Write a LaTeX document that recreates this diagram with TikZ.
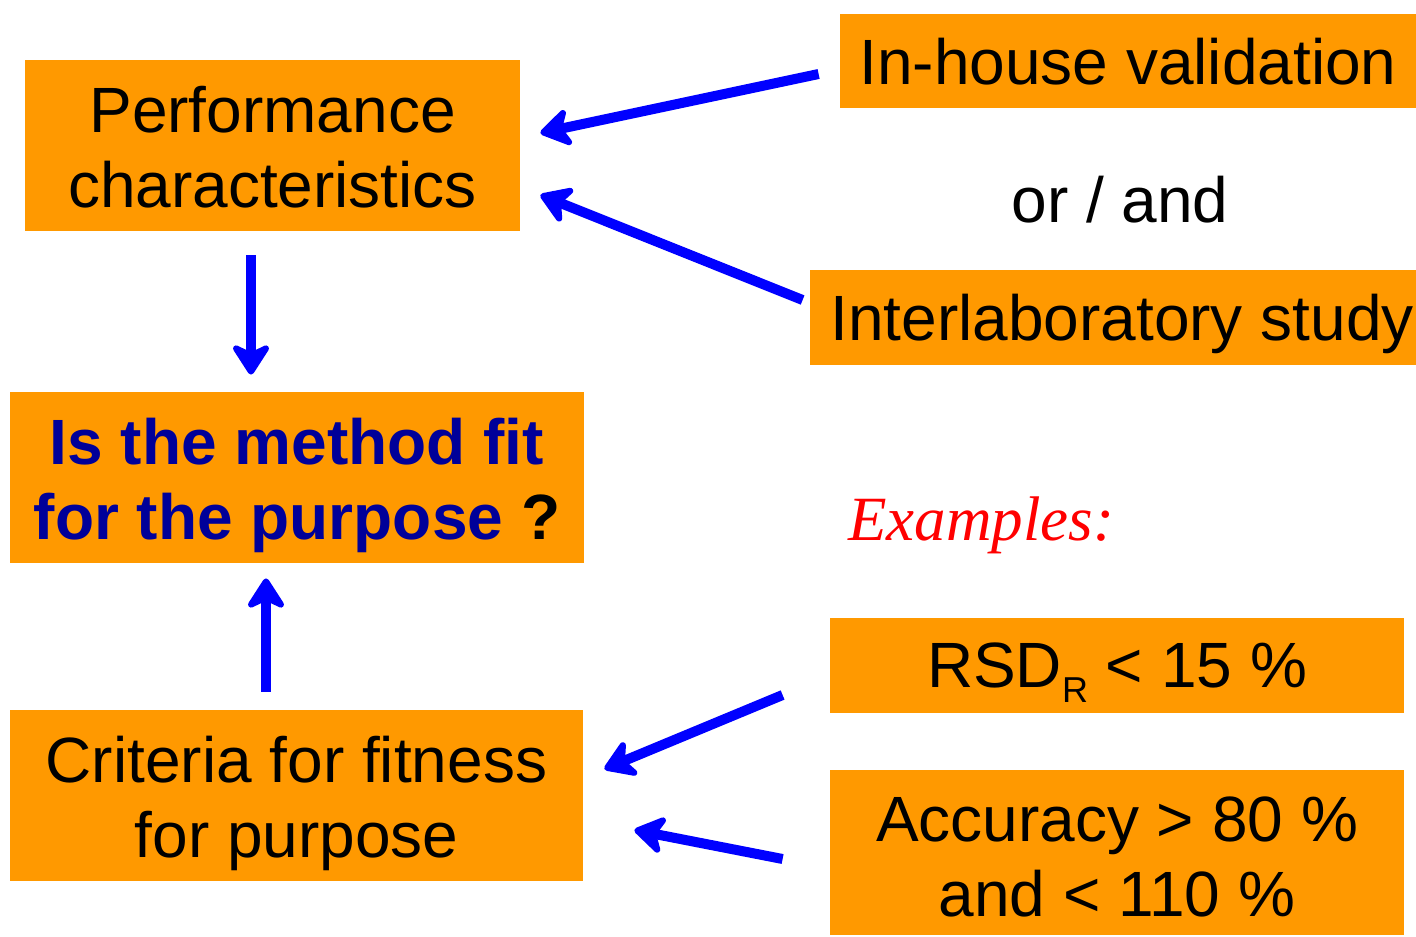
\documentclass[tikz,border=0pt]{standalone}
\usepackage{fontspec}
\setmainfont{Liberation Sans}
\newfontfamily\exfont{Liberation Serif}
\usetikzlibrary{arrows.meta,positioning}
\definecolor{boxorange}{RGB}{255,153,0}
\definecolor{arrowblue}{RGB}{0,0,255}
\definecolor{askblue}{RGB}{0,0,153}
\tikzset{
  rectnode/.style args={#1,#2}{
  fill=boxorange,
  inner sep=0pt,
  align=center,
  minimum width=#1pt,
  minimum height=#2pt,
  font=\fontsize{32}{37.5}\selectfont
  },
  onetext/.style={text depth=0pt},
  twotext/.style={text height=#1pt,text depth=0pt},
  bigarrow/.style={draw=arrowblue,line width=5pt,
    -{Stealth[length=18pt,width=23pt,inset=5.5pt,round]}}
}

\begin{document}
\begin{tikzpicture}[x=0.5pt,y=-0.5pt]
  \useasboundingbox (0,0) rectangle (1416,936);

  \node [rectnode={247.5,85.5},twotext=61.5] (perf) at (272.5,145.5) {Performance\\characteristics};
  \node [rectnode={288,47},onetext] (inhouse) at (1128,61) {In-house validation};
  \node [anchor=base,font=\fontsize{32}{37.5}\selectfont] (orand) at (1120,222) {or / and};
  \node [rectnode={303,47.5},onetext] (inter) at (1113,317.5) {\hspace*{9pt}Interlaboratory study};
  \node [rectnode={287,85.5},twotext=61.5,text=askblue,font=\fontsize{32}{37.5}\selectfont\bfseries] (fit) at (297,477.5)
        {Is the method fit\\for the purpose \textcolor{black}{?}};
  \node [anchor=base,text=red,font=\fontsize{31.5}{38}\selectfont\exfont\itshape] (ex) at (981,540) {Examples:};
  \node [rectnode={287,47.5},onetext] (rsd) at (1117,665.5)
        {RSD\raisebox{-7.5pt}{\fontsize{18}{18}\selectfont R} < 15 \%};
  \node [rectnode={287,82.5},twotext=64.2] (acc) at (1117,852.5) {Accuracy > 80 \%\\and < 110 \%};
  \node [rectnode={286.5,85.5},twotext=61.5] (crit) at (296.5,795.5) {Criteria for fitness\\for purpose};

  \draw [bigarrow] ([shift={(-21,13)}]inhouse.west) -- ([shift={(20,-12.5)}]perf.east);
  \draw [bigarrow] ([shift={(-7,-17.5)}]inter.west) -- ([shift={(20,49.5)}]perf.east);
  \draw [bigarrow] ([shift={(-21.5,24)}]perf.south) -- ([shift={(-46,-17)}]fit.north);
  \draw [bigarrow] ([shift={(-30.5,-18)}]crit.north) -- ([shift={(-31,15)}]fit.south);
  \draw [bigarrow] ([shift={(-47,29.5)}]rsd.west) -- ([shift={(21,-26.5)}]crit.east);
  \draw [bigarrow] ([shift={(-47,6.5)}]acc.west) -- ([shift={(51,34.5)}]crit.east);
\end{tikzpicture}
\end{document}
